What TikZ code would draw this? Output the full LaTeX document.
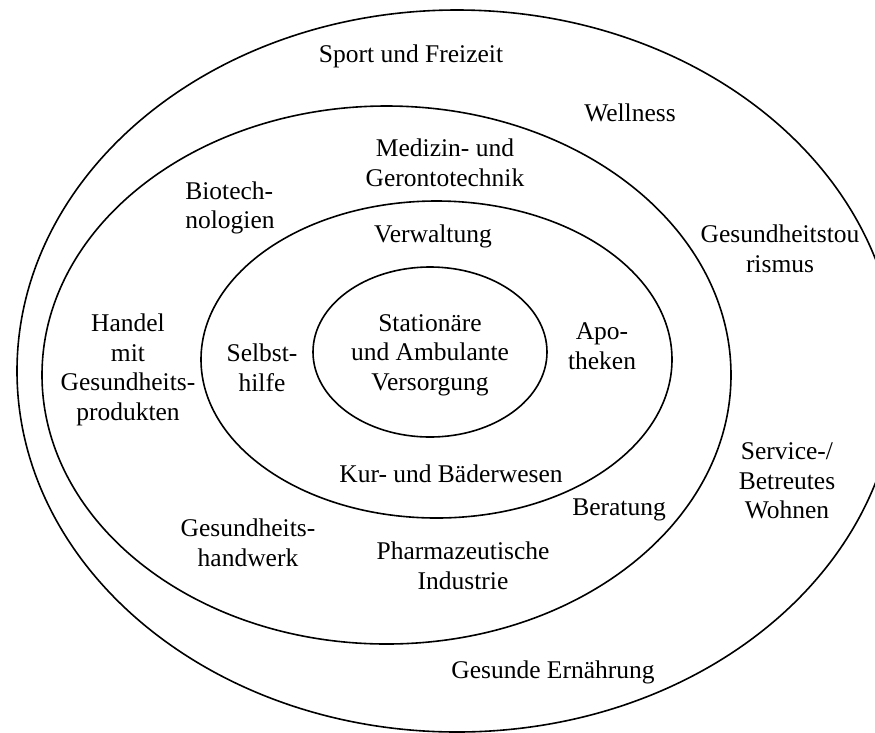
\documentclass[tikz,border=0pt]{standalone}
\usepackage{fontspec}
\setmainfont{Liberation Serif}
\begin{document}
\begin{tikzpicture}[x=1pt,y=-1pt,
  ring/.style={draw=black,line width=1.6pt},
  lbl/.style={inner sep=0pt,align=center,font=\fontsize{25.5}{29.5}\selectfont}]
\clip (0,0) rectangle (875,732);
\fill[white] (0,0) rectangle (875,732);
% four nested areas
\draw[ring] (457,371) ellipse [x radius=440pt,y radius=361pt];
\draw[ring] (386.5,375) ellipse [x radius=344.5pt,y radius=269pt];
\draw[ring] (436.5,359.5) ellipse [x radius=235.5pt,y radius=158.5pt];
\draw[ring] (430,352) ellipse [x radius=117pt,y radius=85pt];
% outer ring
\node[lbl] (sport) at (411,56) {Sport und Freizeit};
\node[lbl] (well) at (630,113) {Wellness};
\node[lbl] (tour) at (780,249) {Gesundheitstou\\rismus};
\node[lbl] (serv) at (787,481) {Service-/\\Betreutes\\Wohnen};
\node[lbl] (ern) at (553,672) {Gesunde Ernährung};
% second ring
\node[lbl] (med) at (445,163) {Medizin- und\\Gerontotechnik};
\node[lbl,align=left] (bio) at (230,208) {Biotech-\\nologien};
\node[lbl] (handel) at (128,370) {Handel\\mit\\Gesundheits-\\produkten};
\node[lbl] (hw) at (248,543) {Gesundheits-\\handwerk};
\node[lbl] (pharma) at (463,566) {Pharmazeutische\\Industrie};
\node[lbl] (ber) at (619,510) {Beratung};
% third ring
\node[lbl] (verw) at (433,236) {Verwaltung};
\node[lbl] (selbst) at (262,368) {Selbst-\\hilfe};
\node[lbl] (apo) at (602,346) {Apo-\\theken};
\node[lbl] (kur) at (451,474) {Kur- und Bäderwesen};
% core
\node[lbl] (kern) at (430,355) {Stationäre\\und Ambulante\\Versorgung};
\end{tikzpicture}
\end{document}
